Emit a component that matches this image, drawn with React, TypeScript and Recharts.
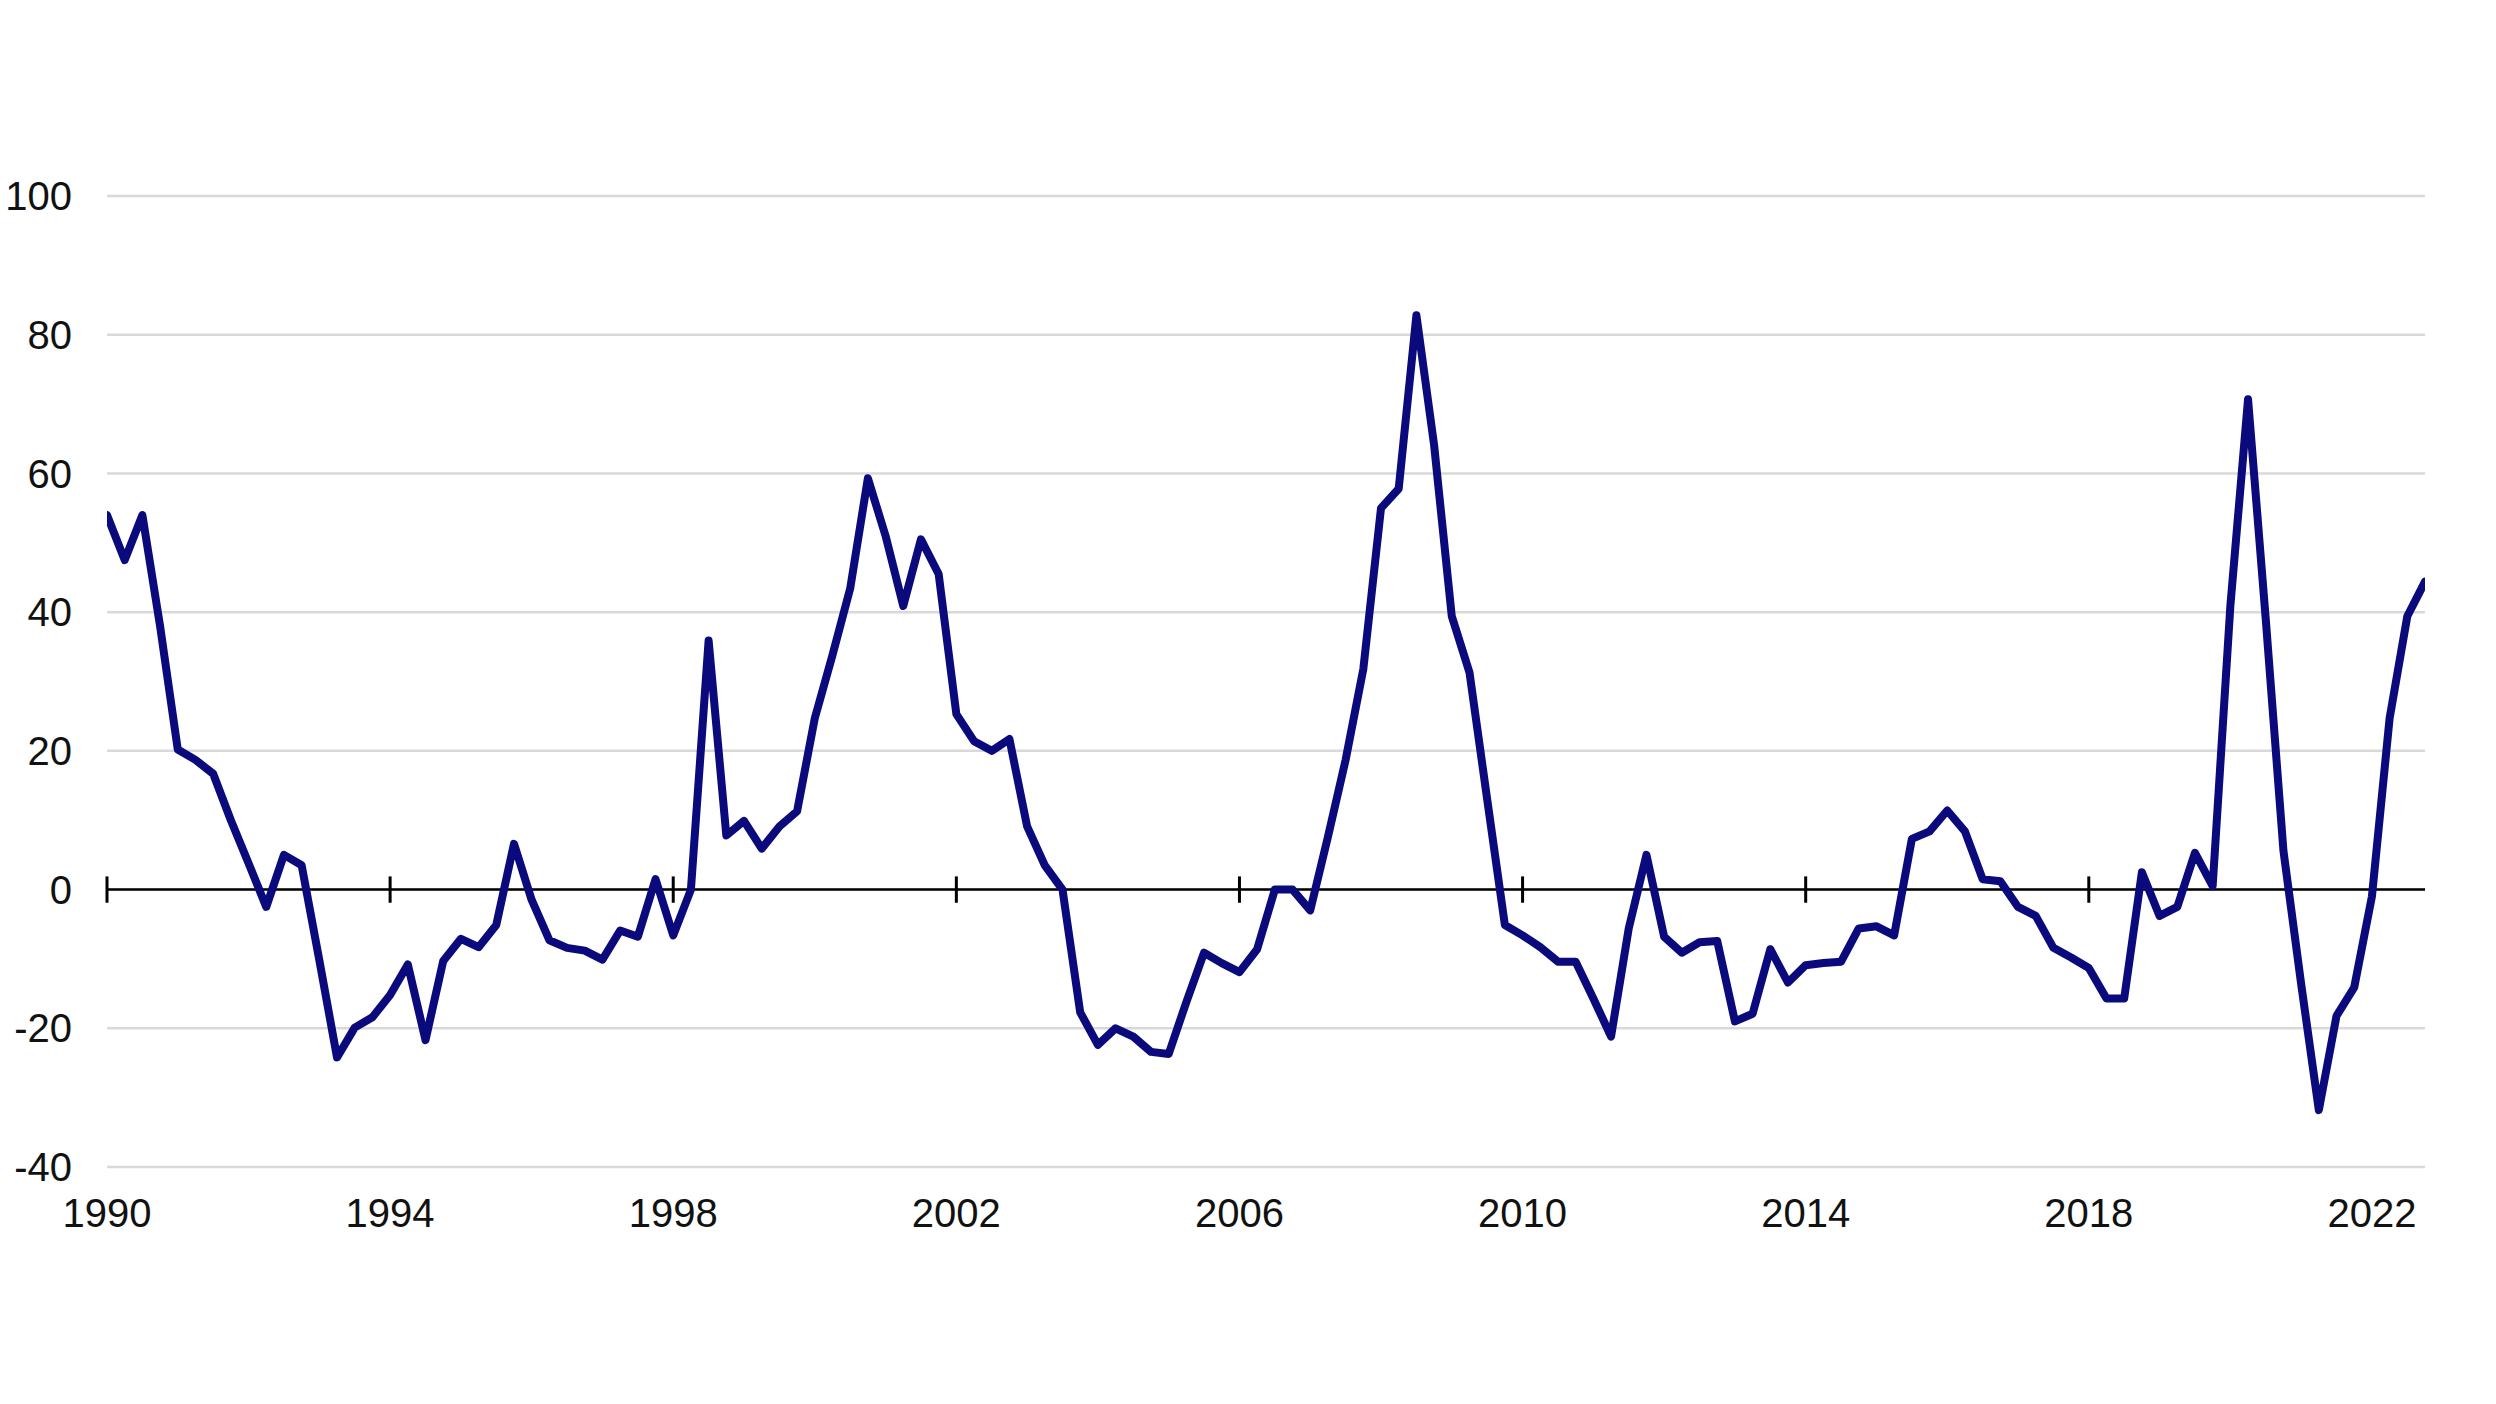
import React from "react";
import { LineChart, Line, XAxis, YAxis, CartesianGrid, ReferenceLine } from "recharts";

// Quarterly observations, 1990 Q1 .. 2022 Q4
const startYear = 1990;
const values: number[] = [
  // 1990
  54, 47.5, 54, 38,
  // 1991
  20.2, 18.7, 16.7, 10,
  // 1992
  3.8, -2.5, 5, 3.5,
  // 1993
  -10.2, -24.2, -19.9, -18.4,
  // 1994
  -15.2, -10.8, -21.7, -10.3,
  // 1995
  -7.1, -8.3, -5.1, 6.6,
  // 1996
  -1.5, -7.3, -8.4, -8.8,
  // 1997
  -10.1, -5.9, -6.8, 1.5,
  // 1998
  -6.6, 0, 35.9, 7.8,
  // 1999
  9.9, 5.9, 9.1, 11.3,
  // 2000
  24.7, 33.8, 43.4, 59.3,
  // 2001
  51, 40.9, 50.5, 45.5,
  // 2002
  25.3, 21.4, 20, 21.7,
  // 2003
  9.1, 3.5, 0, -17.7,
  // 2004
  -22.4, -20, -21.2, -23.4,
  // 2005
  -23.7, -16.2, -9.1, -10.6,
  // 2006
  -11.9, -8.6, 0, 0,
  // 2007
  -3, 7.6, 18.7, 31.8,
  // 2008
  55, 57.8, 82.8, 64.1,
  // 2009
  39.4, 31.3, 13, -5.1,
  // 2010
  -6.6, -8.3, -10.4, -10.4,
  // 2011
  -15.7, -21.2, -5.6, 5,
  // 2012
  -6.8, -9.1, -7.6, -7.4,
  // 2013
  -19, -17.9, -8.6, -13.4,
  // 2014
  -10.9, -10.6, -10.4, -5.6,
  // 2015
  -5.3, -6.6, 7.3, 8.4,
  // 2016
  11.4, 8.4, 1.5, 1.2,
  // 2017
  -2.5, -3.8, -8.4, -9.8,
  // 2018
  -11.3, -15.7, -15.7, 2.5,
  // 2019
  -3.8, -2.5, 5.3, 0.5,
  // 2020
  40.9, 70.7, 39, 5.6,
  // 2021
  -13.6, -31.8, -18.2, -14.1,
  // 2022
  -1, 24.7, 39.4, 44.4,
];

const xTicks: number[] = [1990, 1994, 1998, 2002, 2006, 2010, 2014, 2018, 2022];
const yTicks: number[] = [-40, -20, 0, 20, 40, 60, 80, 100];

const data = values.map((v, i) => ({ t: startYear + i / 4, v }));
const lastT = startYear + (values.length - 1) / 4;

const FONT = "'Liberation Sans', Arial, sans-serif";

export default function App() {
  return (
    <div style={{ position: "absolute", left: 0, top: 0, width: 2496, height: 1400, background: "#ffffff" }}>
      <LineChart
        width={2496}
        height={1400}
        data={data}
        margin={{ top: 196, right: 71, bottom: 173, left: 0 }}
      >
        <CartesianGrid vertical={false} stroke="#d9d9d9" strokeWidth={2.5} />
        <XAxis
          dataKey="t"
          type="number"
          scale="linear"
          domain={[startYear, lastT]}
          allowDataOverflow={true}
          ticks={xTicks}
          interval={0}
          axisLine={false}
          tickLine={false}
          tickSize={6}
          tickMargin={26}
          height={60}
          padding={{ left: 0, right: 0 }}
          tick={{ fill: "#111111", fontSize: 40, fontFamily: FONT }}
        />
        <YAxis
          type="number"
          domain={[-40, 100]}
          ticks={yTicks}
          interval={0}
          axisLine={false}
          tickLine={false}
          width={107}
          tickSize={6}
          tickMargin={29}
          tick={{ fill: "#111111", fontSize: 40, fontFamily: FONT }}
        />
        <ReferenceLine y={0} stroke="#000000" strokeWidth={2.5} />
        {xTicks.map((yr) => (
          <ReferenceLine
            key={yr}
            segment={[
              { x: yr, y: -1.9 },
              { x: yr, y: 1.9 },
            ]}
            stroke="#000000"
            strokeWidth={3}
          />
        ))}
        <Line
          type="linear"
          dataKey="v"
          stroke="#0a0a7c"
          strokeWidth={8}
          strokeLinejoin="round"
          strokeLinecap="round"
          dot={false}
          activeDot={false}
          isAnimationActive={false}
        />
      </LineChart>
    </div>
  );
}
